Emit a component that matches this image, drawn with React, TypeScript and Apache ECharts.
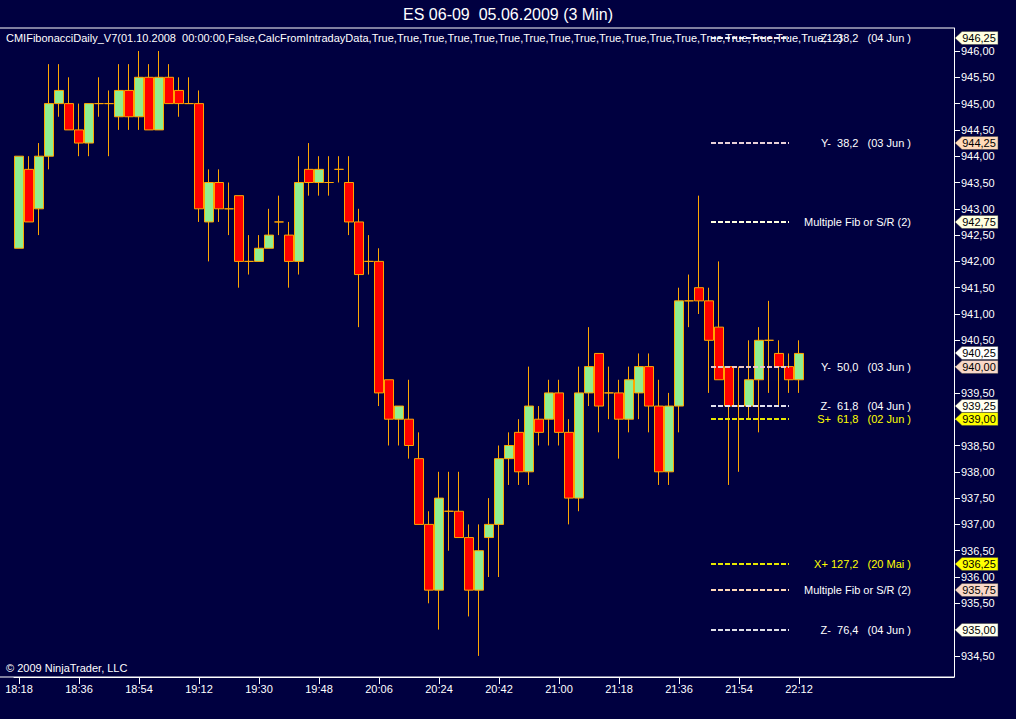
import React, { useEffect, useRef } from 'react';
import * as echarts from 'echarts';

// ---------- data ----------
const opens = [
  942.25, 943.75, 943.0, 944.0, 945.0, 945.0, 944.5, 944.25, 945.0, 945.0,
  944.75, 945.25, 944.75, 945.5, 944.5, 945.5, 945.25, 945.0, 945.0, 942.75,
  943.5, 943.0, 943.25, 942.0, 942.0, 942.25, 942.75, 942.5, 942.0, 943.75,
  943.5, 943.5, 943.75, 943.5, 942.75, 942.0, 942.0, 939.75, 939.0, 939.0,
  938.25, 937.0, 935.75, 937.25, 937.25, 936.75, 935.75, 936.75, 937.0, 938.25,
  938.75, 938.0, 939.0, 939.0, 939.5, 938.75, 937.5, 939.5, 940.25, 939.5,
  939.5, 939.0, 939.5, 940.0, 939.25, 938.0, 939.25, 941.25, 941.5, 941.25,
  940.75, 940.0, 939.25, 939.25, 939.75, 940.5, 940.25, 940.0, 939.75,
];
const closes = [
  944.0, 942.75, 944.0, 945.0, 945.25, 944.5, 944.25, 945.0, 945.0, 945.0,
  945.25, 944.75, 945.5, 944.5, 945.5, 945.0, 945.0, 945.0, 943.0, 943.5,
  943.0, 943.0, 942.0, 942.0, 942.25, 942.5, 942.75, 942.0, 943.5, 943.5,
  943.75, 943.5, 943.75, 942.75, 941.75, 942.0, 939.5, 939.0, 939.25, 938.5,
  937.0, 935.75, 937.5, 937.25, 936.75, 935.75, 936.5, 937.0, 938.25, 938.5,
  938.0, 939.25, 938.75, 939.5, 938.75, 937.5, 939.5, 940.0, 939.25, 939.5,
  939.0, 939.75, 940.0, 939.25, 938.0, 939.25, 941.25, 941.25, 941.25, 940.5,
  939.75, 939.25, 939.25, 939.75, 940.5, 940.5, 940.0, 939.75, 940.25,
];
const lows = [
  942.25, 942.75, 942.5, 943.75, 944.75, 944.5, 944.0, 944.0, 944.75, 944.0,
  944.5, 944.5, 944.5, 944.5, 944.5, 945.0, 944.75, 945.0, 942.75, 942.0,
  942.75, 942.5, 941.5, 941.75, 942.0, 942.25, 942.5, 941.5, 941.75, 943.25,
  943.25, 943.25, 943.5, 942.5, 940.75, 941.75, 939.25, 938.5, 938.5, 938.25,
  937.0, 935.5, 935.0, 936.5, 936.75, 935.25, 934.5, 936.0, 936.0, 937.75,
  937.75, 937.75, 938.5, 938.5, 938.5, 937.0, 937.25, 939.25, 938.75, 939.0,
  938.25, 938.75, 939.0, 938.75, 937.75, 937.75, 938.75, 940.75, 941.0, 939.5,
  939.75, 937.75, 938.0, 939.0, 938.75, 939.5, 939.25, 939.5, 939.5,
];
const highs = [
  944.0, 944.0, 944.25, 945.75, 945.75, 945.5, 945.0, 945.0, 945.5, 945.25,
  945.75, 945.75, 946.0, 945.75, 946.0, 945.75, 945.5, 945.5, 945.25, 943.75,
  943.75, 943.5, 943.25, 942.5, 942.5, 943.0, 943.25, 942.75, 944.0, 944.25,
  944.0, 944.0, 944.0, 944.0, 943.0, 942.5, 942.25, 939.75, 939.25, 939.75,
  938.75, 937.25, 938.0, 938.0, 938.0, 937.0, 937.0, 937.5, 938.5, 938.75,
  939.0, 940.0, 939.25, 939.75, 939.75, 939.0, 940.0, 940.75, 940.25, 940.0,
  939.75, 940.0, 940.25, 940.25, 939.75, 939.5, 941.5, 941.75, 943.25, 941.5,
  942.0, 940.0, 940.0, 940.5, 940.75, 941.25, 940.5, 940.25, 940.5,
];

const timeLabels = [
  '18:18', '18:36', '18:54', '19:12', '19:30', '19:48', '20:06',
  '20:24', '20:42', '21:00', '21:18', '21:36', '21:54', '22:12',
];
const yTicks = [
  934.5, 935.0, 935.5, 936.0, 936.5, 937.0, 937.5, 938.0, 938.5, 939.0, 939.5,
  940.0, 940.5, 941.0, 941.5, 942.0, 942.5, 943.0, 943.5, 944.0, 944.5, 945.0,
  945.5, 946.0,
];

const fibLevels = [946.25, 944.25, 942.75, 940.0, 939.25, 939.0, 936.25, 935.75, 935.0];
const fibTexts = [
  'Z-  38,2   (04 Jun )',
  'Y-  38,2   (03 Jun )',
  'Multiple Fib or S/R (2)',
  'Y-  50,0   (03 Jun )',
  'Z-  61,8   (04 Jun )',
  'S+  61,8   (02 Jun )',
  'X+ 127,2   (20 Mai )',
  'Multiple Fib or S/R (2)',
  'Z-  76,4   (04 Jun )',
];
const markerPrices = [946.25, 944.25, 942.75, 940.25, 940.0, 939.25, 939.0, 936.25, 935.75, 935.0];

const titleText = 'ES 06-09  05.06.2009 (3 Min)';
const indicatorText =
  'CMIFibonacciDaily_V7(01.10.2008  00:00:00,False,CalcFromIntradayData,' +
  Array(18).fill('True').join(',') + ',12)';
const copyrightText = '© 2009 NinjaTrader, LLC';

// ---------- styles ----------
const BG = '#000040';
const FONT = '"Liberation Sans", Arial, sans-serif';
const fibLineColors = ['#e8e8f0', '#e8d0d8', '#ffffe0', '#e8c8c8', '#e0e0f0', '#e8e800', '#e8e800', '#ffdab9', '#e0e0e8'];
const fibTextColors = ['#ffffff', '#ffffff', '#ffffff', '#ffffff', '#ffffff', '#ffff00', '#ffff00', '#ffffff', '#ffffff'];
const markerColors = ['#ffffe0', '#ffdab9', '#ffffe0', '#ffffff', '#f8d8c8', '#fffff0', '#ffff00', '#ffff00', '#f8d8c8', '#fffff0'];

const SLOTS = 94;
const categories = Array.from({ length: SLOTS }, (_, i) => {
  const m = 18 * 60 + 18 + 3 * i;
  return `${Math.floor(m / 60)}:${String(m % 60).padStart(2, '0')}`;
});

const fmt = (v: number) => v.toFixed(2).replace('.', ',');

export default function App() {
  const ref = useRef<HTMLDivElement>(null);
  useEffect(() => {
    if (!ref.current) return;
    const chart = echarts.init(ref.current, null, { renderer: 'svg' });
    const showIdx = (index: number) => timeLabels.includes(categories[index]);
    chart.setOption({
      animation: false,
      backgroundColor: BG,
      grid: { left: 14, right: 62, top: 28, bottom: 42 },
      xAxis: {
        type: 'category',
        data: categories,
        boundaryGap: true,
        axisLine: { show: true, lineStyle: { color: '#ffffff', width: 1 } },
        axisTick: { show: true, interval: showIdx, alignWithLabel: true, length: 7, lineStyle: { color: '#ffffff' } },
        axisLabel: {
          interval: showIdx,
          color: '#ffffff',
          fontSize: 11,
          fontFamily: FONT,
          margin: 6,
        },
        splitLine: { show: false },
      },
      yAxis: {
        type: 'value',
        position: 'right',
        min: 934.0989,
        max: 946.4373,
        scale: true,
        axisLine: { show: true, lineStyle: { color: '#ffffff', width: 1 } },
        axisTick: { show: true, customValues: yTicks, length: 6, lineStyle: { color: '#ffffff' } },
        axisLabel: {
          customValues: yTicks,
          color: '#ffffff',
          fontSize: 11,
          fontFamily: FONT,
          margin: 7,
          formatter: (v: number) => fmt(v),
        },
        splitLine: { show: false },
      },
      series: [
        {
          type: 'candlestick',
          barWidth: 10,
          data: opens.map((o, i) => [o, closes[i], lows[i], highs[i]]),
          itemStyle: {
            color: '#90ee90',
            color0: '#ff0000',
            borderColor: '#ffa500',
            borderColor0: '#ffa500',
            borderColorDoji: '#ffa500',
            borderWidth: 1,
          },
        },
      ],
    });

    const yPx = (p: number) => chart.convertToPixel({ yAxisIndex: 0 }, p) as number;
    const graphics: any[] = [];
    graphics.push({
      type: 'text', z: 50,
      style: { text: titleText, x: 508, y: 14, align: 'center', verticalAlign: 'middle', textAlign: 'center', textVerticalAlign: 'middle', fill: '#ffffff', fontSize: 16, fontFamily: FONT },
    });
    graphics.push({ type: 'line', z: 50, shape: { x1: 0, y1: 28, x2: 954, y2: 28 }, style: { stroke: '#ffffff', lineWidth: 1 } });
    graphics.push({ type: 'line', z: 50, shape: { x1: 0, y1: 677, x2: 954, y2: 677 }, style: { stroke: '#ffffff', lineWidth: 1 } });
    graphics.push({
      type: 'text', z: 50,
      style: { text: indicatorText, x: 6, y: 38, align: 'left', verticalAlign: 'middle', textAlign: 'left', textVerticalAlign: 'middle', fill: '#ffffff', fontSize: 11, fontFamily: FONT },
    });
    graphics.push({
      type: 'text', z: 50,
      style: { text: copyrightText, x: 6, y: 668, align: 'left', verticalAlign: 'middle', textAlign: 'left', textVerticalAlign: 'middle', fill: '#ffffff', fontSize: 11, fontFamily: FONT },
    });
    fibLevels.forEach((p, i) => {
      const y = Math.round(yPx(p));
      graphics.push({
        type: 'line', z: 40,
        shape: { x1: 711, y1: y, x2: 789, y2: y },
        style: { stroke: fibLineColors[i], lineWidth: 2, lineDash: [5, 2] },
      });
      graphics.push({
        type: 'text', z: 50,
        style: { text: fibTexts[i], x: 911, y, align: 'right', verticalAlign: 'middle', textAlign: 'right', textVerticalAlign: 'middle', fill: fibTextColors[i], fontSize: 11, fontFamily: FONT },
      });
    });
    markerPrices.forEach((p, i) => {
      const y = Math.round(yPx(p));
      graphics.push({
        type: 'polygon', z: 60,
        shape: { points: [[955, y], [962, y - 6.5], [998, y - 6.5], [998, y + 6.5], [962, y + 6.5]] },
        style: { fill: markerColors[i], stroke: '#404040', lineWidth: 0.5 },
      });
      graphics.push({
        type: 'text', z: 61,
        style: { text: fmt(p), x: 979, y, align: 'center', verticalAlign: 'middle', textAlign: 'center', textVerticalAlign: 'middle', fill: '#000000', fontSize: 11, fontFamily: FONT },
      });
    });
    chart.setOption({ graphic: graphics });

    return () => chart.dispose();
  }, []);
  return (
    <div
      ref={ref}
      style={{ position: 'fixed', left: 0, top: 0, width: 1016, height: 719, background: BG }}
    />
  );
}
